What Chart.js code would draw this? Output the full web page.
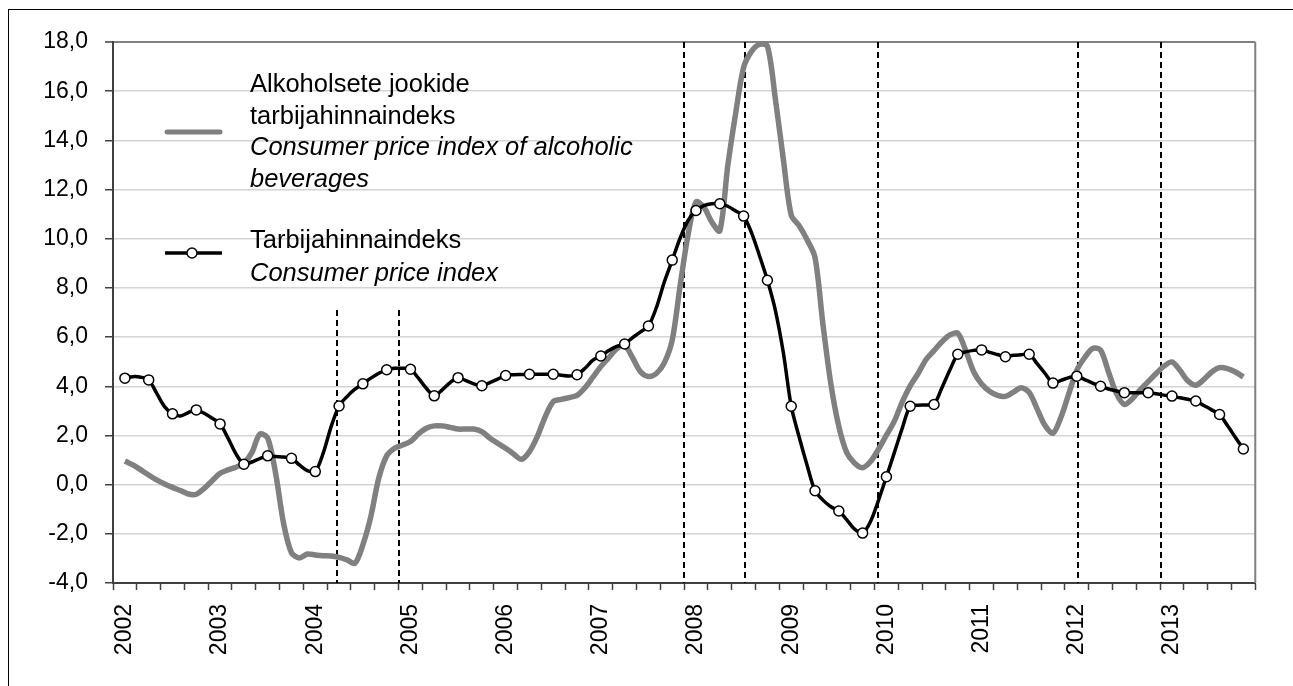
<!DOCTYPE html>
<html>
<head>
<meta charset="utf-8">
<script src="https://cdn.jsdelivr.net/npm/chart.js@4.4.1/dist/chart.umd.min.js"></script>
<style>
  html, body { margin: 0; padding: 0; background: #fff; overflow: hidden; }
  #wrap { position: relative; width: 1293px; height: 686px; }
  #frame { position: absolute; left: 8px; top: 9px; width: 1290px; height: 690px;
           border-left: 1px solid #000; border-top: 1px solid #000; }
  #chart { position: absolute; left: 0; top: 0; }
</style>
</head>
<body>
<div id="wrap">
  <div id="frame"></div>
  <canvas id="chart" width="1293" height="686"></canvas>
</div>
<script>
// ===================================
// Andmed / data
// ===================================
const years = [2002, 2003, 2004, 2005, 2006, 2007, 2008, 2009, 2010, 2011, 2012, 2013];

// igakuised kategooriad (jaan 2002 - dets 2013)
const months = [];
years.forEach(function(y) {
    for (let m = 1; m <= 12; m++) months.push(y + '-' + String(m).padStart(2, '0'));
});

// Alkoholsete jookide tarbijahinnaindeks, muutus %
const alcoholCpi = [
    null, 0.96, 0.80, 0.60, 0.39, 0.19, 0.03, -0.11, -0.24, -0.38, -0.39, -0.15,
    0.16, 0.46, 0.60, 0.71, 0.87, 1.30, 2.05, 1.90, 0.46, -1.57, -2.77, -2.98,
    -2.82, -2.86, -2.89, -2.90, -2.96, -3.06, -3.20, -2.45, -1.30, 0.26, 1.17, 1.48,
    1.61, 1.75, 2.06, 2.29, 2.39, 2.39, 2.33, 2.26, 2.26, 2.26, 2.16, 1.89,
    1.68, 1.48, 1.25, 1.03, 1.34, 1.96, 2.77, 3.38, 3.47, 3.54, 3.63, 3.94,
    4.37, 4.80, 5.16, 5.52, 5.66, 5.16, 4.59, 4.40, 4.52, 4.95, 5.88, 8.10,
    10.17, 11.50, 11.28, 10.67, 10.32, 12.96, 15.11, 16.97, 17.62, 17.90, 17.83, 15.69,
    13.25, 10.96, 10.53, 9.96, 9.24, 6.52, 4.09, 2.37, 1.30, 0.87, 0.69, 0.94,
    1.44, 2.01, 2.58, 3.37, 4.02, 4.52, 5.09, 5.45, 5.81, 6.09, 6.16, 5.45,
    4.59, 4.09, 3.80, 3.63, 3.59, 3.76, 3.94, 3.75, 3.08, 2.40, 2.09, 2.74,
    3.70, 4.65, 5.17, 5.54, 5.47, 4.58, 3.70, 3.26, 3.49, 3.86, 4.19, 4.52,
    4.82, 4.99, 4.65, 4.22, 4.04, 4.27, 4.58, 4.76, 4.72, 4.58, 4.38, null
];

// Tarbijahinnaindeks, muutus %
const cpi = [
    null, 4.33, 4.39, 4.37, 4.26, 3.72, 3.17, 2.88, 2.79, 2.93, 3.04, 2.90,
    2.70, 2.47, 1.89, 1.25, 0.83, 0.92, 1.06, 1.17, 1.14, 1.12, 1.07, 0.80,
    0.57, 0.53, 1.28, 2.36, 3.20, 3.58, 3.88, 4.10, 4.33, 4.53, 4.67, 4.73,
    4.73, 4.69, 4.33, 3.92, 3.61, 3.85, 4.15, 4.35, 4.23, 4.10, 4.02, 4.15,
    4.29, 4.44, 4.47, 4.48, 4.49, 4.49, 4.49, 4.49, 4.45, 4.42, 4.47, 4.73,
    5.06, 5.23, 5.45, 5.62, 5.72, 5.98, 6.21, 6.45, 7.20, 8.24, 9.13, 10.03,
    10.75, 11.15, 11.35, 11.42, 11.42, 11.32, 11.13, 10.92, 10.24, 9.31, 8.31, 7.09,
    5.38, 3.19, 1.94, 0.79, -0.25, -0.63, -0.90, -1.07, -1.43, -1.81, -1.97, -1.50,
    -0.64, 0.32, 1.30, 2.30, 3.19, 3.23, 3.24, 3.26, 3.94, 4.66, 5.30, 5.40,
    5.46, 5.48, 5.38, 5.29, 5.20, 5.26, 5.28, 5.30, 4.92, 4.52, 4.13, 4.24,
    4.35, 4.41, 4.27, 4.13, 4.00, 3.89, 3.81, 3.74, 3.74, 3.74, 3.74, 3.70,
    3.64, 3.60, 3.53, 3.47, 3.40, 3.22, 3.04, 2.85, 2.40, 1.92, 1.45, null
];

// y-telje jaotised
const yTicks = [-4, -2, 0, 2, 4, 6, 8, 10, 12, 14, 16, 18];

// katkendjooned (kuu indeks kategooriateljel) ja nende ülemine ots
const excisePos = [27.8, 35.6, 71.5, 79.2, 95.9, 121.1, 131.6];
const exciseTop = [7.1, 7.1, 18, 18, 18, 18, 18];

// legendi tekstid
const legendAlcohol = ['Alkoholsete jookide', 'tarbijahinnaindeks', 'Consumer price index of alcoholic', 'beverages'];
const legendCpi = ['Tarbijahinnaindeks', 'Consumer price index'];

// ===================================
// Lisajoonised
// ===================================
const FONT = '"Liberation Sans", Arial, sans-serif';

const overlay = {
    id: 'overlay',
    beforeDatasetsDraw: function(chart) {
        const ctx = chart.ctx;
        const area = chart.chartArea;
        const x = chart.scales.x;
        const y = chart.scales.y;
        ctx.save();
        // parem raam
        ctx.strokeStyle = '#808080';
        ctx.lineWidth = 2;
        ctx.beginPath();
        ctx.moveTo(area.right, area.top);
        ctx.lineTo(area.right, area.bottom);
        ctx.stroke();
        // katkendjooned
        ctx.strokeStyle = '#000';
        ctx.lineWidth = 2;
        ctx.setLineDash([6, 4]);
        excisePos.forEach(function(p, i) {
            const px = Math.round(x.getPixelForValue(p));
            ctx.beginPath();
            ctx.moveTo(px, y.getPixelForValue(exciseTop[i]));
            ctx.lineTo(px, area.bottom);
            ctx.stroke();
        });
        ctx.restore();
    },
    afterDraw: function(chart) {
        const ctx = chart.ctx;
        ctx.save();
        ctx.fillStyle = '#000';
        ctx.textAlign = 'left';
        ctx.textBaseline = 'alphabetic';

        // hall joon
        ctx.strokeStyle = '#808080';
        ctx.lineWidth = 5;
        ctx.lineCap = 'round';
        ctx.beginPath();
        ctx.moveTo(167, 132);
        ctx.lineTo(220, 132);
        ctx.stroke();
        legendAlcohol.forEach(function(t, i) {
            ctx.font = (i < 2 ? '' : 'italic ') + '25.5px ' + FONT;
            ctx.fillText(t, 250, 92 + i * 31.7);
        });

        // must joon markeriga
        ctx.strokeStyle = '#000';
        ctx.lineWidth = 3.5;
        ctx.lineCap = 'butt';
        ctx.beginPath();
        ctx.moveTo(165, 253);
        ctx.lineTo(222, 253);
        ctx.stroke();
        ctx.fillStyle = '#fff';
        ctx.lineWidth = 1.5;
        ctx.beginPath();
        ctx.arc(192, 253, 5, 0, Math.PI * 2);
        ctx.fill();
        ctx.stroke();
        ctx.fillStyle = '#000';
        legendCpi.forEach(function(t, i) {
            ctx.font = (i < 1 ? '' : 'italic ') + '25.5px ' + FONT;
            ctx.fillText(t, 250, 248 + i * 33);
        });
        ctx.restore();
    }
};

// ===================================
// Graafik
// ===================================
const ctx = document.getElementById('chart').getContext('2d');

new Chart(ctx, {
    type: 'line',
    data: {
        labels: months,
        datasets: [{
            label: 'Tarbijahinnaindeks',
            data: cpi,
            borderColor: '#000',
            borderWidth: 3.5,
            tension: 0.3,
            pointRadius: function(c) { return c.dataIndex % 3 === 1 ? 5 : 0; },
            pointBackgroundColor: '#fff',
            pointBorderColor: '#000',
            pointBorderWidth: 1.5,
            order: 1
        }, {
            label: 'Alkoholsete jookide tarbijahinnaindeks',
            data: alcoholCpi,
            borderColor: '#808080',
            borderWidth: 5.5,
            tension: 0.3,
            pointRadius: 0,
            order: 2
        }]
    },
    options: {
        responsive: false,
        animation: false,
        devicePixelRatio: 1,
        layout: { padding: { left: 0, top: 42, right: 29, bottom: 0 } },
        plugins: {
            legend: { display: false },
            tooltip: { enabled: false }
        },
        scales: {
            x: {
                type: 'category',
                offset: true,
                afterFit: function(s) { s.height = 103; },
                border: { color: '#404040', width: 2 },
                grid: {
                    offset: true,
                    drawOnChartArea: false,
                    drawTicks: true,
                    tickLength: 7,
                    tickWidth: 1.5,
                    tickColor: function(c) {
                        return (c.index === undefined || c.index % 3 === 0) ? '#404040' : 'rgba(0,0,0,0)';
                    }
                },
                ticks: {
                    autoSkip: false,
                    minRotation: 90,
                    maxRotation: 90,
                    padding: 14,
                    color: '#000',
                    font: { family: FONT, size: 23 },
                    callback: function(value) {
                        const lbl = this.getLabelForValue(value);
                        return lbl.slice(5) === '02' ? lbl.slice(0, 4) : '';
                    }
                }
            },
            y: {
                min: yTicks[0],
                max: yTicks[yTicks.length - 1],
                afterFit: function(s) { s.width = 113; },
                afterBuildTicks: function(s) { s.ticks = yTicks.map(function(v) { return { value: v }; }); },
                border: { color: '#404040', width: 2 },
                grid: {
                    color: function(c) { return c.tick && c.tick.value === 18 ? '#808080' : '#d4d4d4'; },
                    lineWidth: function(c) { return c.tick && c.tick.value === 18 ? 2 : 1.5; },
                    tickColor: '#404040',
                    tickLength: 8,
                    tickWidth: 1.5
                },
                ticks: {
                    padding: 17,
                    color: '#000',
                    font: { family: FONT, size: 23 },
                    callback: function(v) { return v.toFixed(1).replace('.', ','); }
                }
            }
        }
    },
    plugins: [overlay]
});
</script>
</body>
</html>
